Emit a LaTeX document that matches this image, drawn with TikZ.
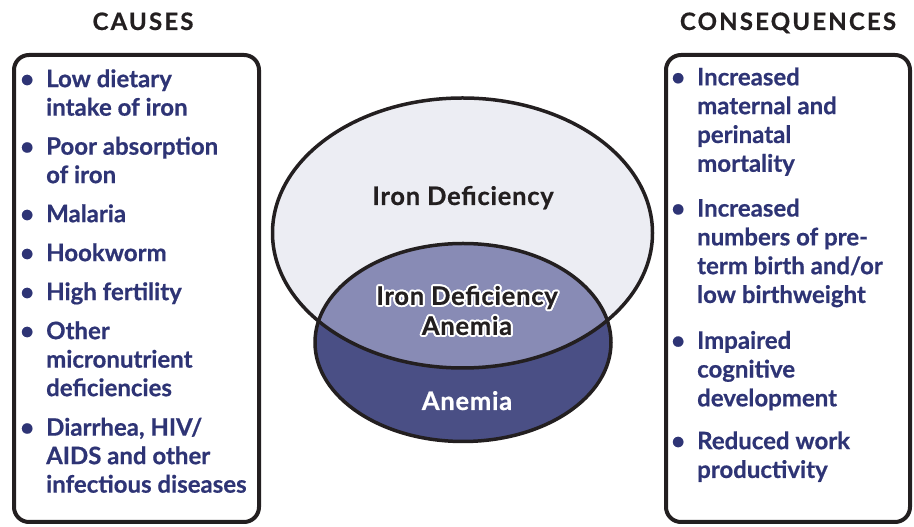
\documentclass[tikz,border=0pt]{standalone}
\usepackage{fontspec}
\setmainfont{Lato}[BoldFeatures={FakeBold=0.6}]
\usetikzlibrary{positioning}

\definecolor{ironblue}{HTML}{2E3475}
\definecolor{lightfill}{HTML}{ECEDF3}
\definecolor{midfill}{HTML}{888BB5}
\definecolor{darkfill}{HTML}{4A4F85}
\definecolor{edgeblack}{HTML}{231F20}

\tikzset{
	listbox/.style={draw=edgeblack, line width=4pt, rounded corners=15pt},
	heading/.style={anchor=base, inner sep=0pt, text=edgeblack, font=\fontsize{24}{28}\selectfont\bfseries\addfontfeatures{LetterSpace=9}},
	itemlist/.style={anchor=north west, inner sep=0pt, text=ironblue, font=\fontsize{24}{28.5}\selectfont\bfseries},
	venn/.style={draw=edgeblack, line width=3.5pt},
	venntext/.style={inner sep=0pt, align=center, font=\fontsize{25.5}{30}\selectfont\bfseries\addfontfeatures{LetterSpace=3}}
}

\begin{document}
\begin{tikzpicture}[x=1pt,y=1pt]
		\useasboundingbox (0,0) rectangle (914,527);
		% headings
		\node[heading] (causes) at (143,497) {CAUSES};
		\node[heading] (conseq) at (788,497) {CONSEQUENCES};
		% the two boxes
		\draw[listbox] (14,5) rectangle (259,472);
		\draw[listbox] (666,5) rectangle (910,472);
		\node[itemlist] (causelist) at (20,460) {%
			\begin{tabular}{@{}p{26pt}@{}l@{}}
				\textbullet & Low dietary\\
				& intake of iron\\[10.5pt]
				\textbullet & Poor absorption\\
				& of iron\\[10.5pt]
				\textbullet & Malaria\\[10.5pt]
				\textbullet & Hookworm\\[10.5pt]
				\textbullet & High fertility\\[10.5pt]
				\textbullet & Other\\
				& micronutrient\\
				& deficiencies\\[11pt]
				\textbullet & Diarrhea, HIV/\\
				& AIDS and other\\
				& infectious diseases
			\end{tabular}};
		\node[itemlist, font=\fontsize{24}{28.8}\selectfont\bfseries] (conseqlist) at (671,462) {%
			\begin{tabular}{@{}p{26pt}@{}l@{}}
				\textbullet & Increased\\
				& maternal and\\
				& perinatal\\
				& mortality\\[16pt]
				\textbullet & Increased\\
				& numbers of pre-\\
				& term birth and/or\\
				& low birthweight\\[17pt]
				\textbullet & Impaired\\
				& cognitive\\
				& development\\[14pt]
				\textbullet & Reduced work\\
				& productivity
			\end{tabular}};
		% venn ellipses
		\fill[lightfill] (462.5,294) ellipse [x radius=190, y radius=135];
		\fill[darkfill] (463,184.5) ellipse [x radius=148, y radius=99];
		\begin{scope}
			\clip (463,184.5) ellipse [x radius=148, y radius=99];
			\fill[midfill] (462.5,294) ellipse [x radius=190, y radius=135];
		\end{scope}
		\draw[venn] (462.5,294) ellipse [x radius=190, y radius=135];
		\draw[venn] (463,184.5) ellipse [x radius=148, y radius=99];
		% labels
		\node[venntext, anchor=base, text=edgeblack] (irondef) at (463,322) {Iron Deficiency};
		\foreach \a in {0,30,...,330}
			\node[venntext, text=white, shift={(\a:2)}] (halo\a) at (467,216.5) {Iron Deficiency\\Anemia};
		\node[venntext, text=edgeblack] (ida) at (467,216.5) {Iron Deficiency\\Anemia};
		\node[venntext, anchor=base, text=white] (anemia) at (467,117) {Anemia};
	\end{tikzpicture}
\end{document}
